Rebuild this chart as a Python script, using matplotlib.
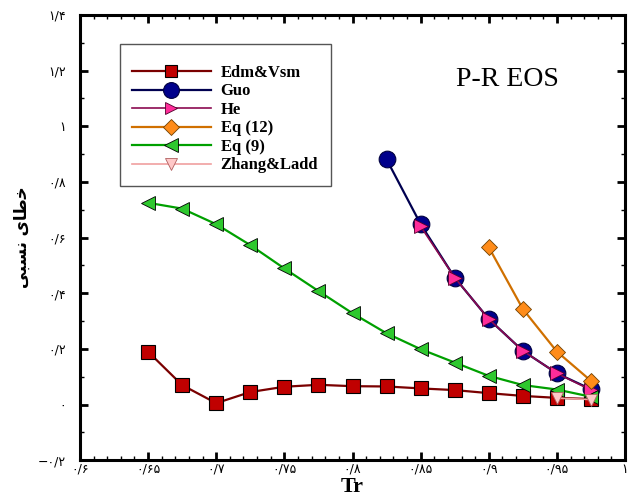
import numpy as np
import matplotlib.pyplot as plt
from matplotlib.ticker import MultipleLocator, FixedLocator

# data
tr_all = [0.65, 0.675, 0.7, 0.725, 0.75, 0.775, 0.8, 0.825,
          0.85, 0.875, 0.9, 0.925, 0.95, 0.975]
edm_vsm = [0.19, 0.07, 0.005, 0.045, 0.064, 0.071, 0.066, 0.065,
           0.058, 0.052, 0.041, 0.031, 0.024, 0.02]
eq9 = [0.725, 0.704, 0.648, 0.573, 0.489, 0.408, 0.328, 0.256,
       0.199, 0.151, 0.103, 0.07, 0.054, 0.028]

tr_guo = [0.825, 0.85, 0.875, 0.9, 0.925, 0.95, 0.975]
guo = [0.881, 0.648, 0.456, 0.307, 0.193, 0.112, 0.055]

tr_he = [0.85, 0.875, 0.9, 0.925, 0.95, 0.975]
he = [0.64, 0.456, 0.307, 0.193, 0.112, 0.052]

tr_eq12 = [0.9, 0.925, 0.95, 0.975]
eq12 = [0.565, 0.343, 0.19, 0.085]

tr_zhang = [0.95, 0.975]
zhang = [0.023, 0.018]

x_ticks = [0.6, 0.65, 0.7, 0.75, 0.8, 0.85, 0.9, 0.95, 1.0]
x_labels = ['۰/۶', '۰/۶۵', '۰/۷', '۰/۷۵', '۰/۸', '۰/۸۵', '۰/۹', '۰/۹۵', '۱']
y_ticks = [-0.2, 0, 0.2, 0.4, 0.6, 0.8, 1.0, 1.2, 1.4]
y_labels = ['−۰/۲', '۰', '۰/۲', '۰/۴', '۰/۶', '۰/۸', '۱', '۱/۲', '۱/۴']

# "خطای نسبی" in presentation forms, visual order (matplotlib does no shaping)
y_title = '\ufef0\ufe92\ufeb4\ufee7 \ufeef\ufe8e\ufec3\ufea7'

fig = plt.figure(figsize=(6.34, 4.97), dpi=100)
ax = fig.add_axes([0.126, 0.074, 0.86, 0.896])

ax.plot(tr_all, edm_vsm, color='#7a0000', lw=1.6, marker='s', ms=9.5,
        mfc='#c00000', mec='black', mew=0.8, label='Edm&Vsm')
ax.plot(tr_guo, guo, color='#000050', lw=1.6, marker='o', ms=12,
        mfc='#00008b', mec='#000040', mew=0.8, label='Guo')
ax.plot(tr_he, he, color='#8b0a50', lw=1.2, marker='>', ms=9.5,
        mfc='#ff2d9a', mec='#50002a', mew=0.6, label='He')
ax.plot(tr_eq12, eq12, color='#d07000', lw=1.6, marker='D', ms=8.5,
        mfc='#ff8c1a', mec='#704000', mew=0.6, label='Eq (12)')
ax.plot(tr_all, eq9, color='#00a000', lw=1.6, marker='<', ms=10,
        mfc='#2ec82e', mec='black', mew=0.6, label='Eq (9)')
ax.plot(tr_zhang, zhang, color='#f0a0a0', lw=1.2, marker='v', ms=9,
        mfc='#ffc8c8', mec='#b06060', mew=0.6, label='Zhang&Ladd')

ax.set_xlim(0.6, 1.0)
ax.set_ylim(-0.2, 1.4)
ax.xaxis.set_major_locator(FixedLocator(x_ticks))
ax.yaxis.set_major_locator(FixedLocator(y_ticks))
ax.xaxis.set_minor_locator(MultipleLocator(0.01))
ax.yaxis.set_minor_locator(MultipleLocator(0.1))
ax.set_xticklabels(x_labels, fontsize=9, family='DejaVu Sans')
ax.set_yticklabels(y_labels, fontsize=9, family='DejaVu Sans')
ax.tick_params(which='both', direction='in', top=True, right=True)
ax.tick_params(which='major', length=6, width=2)
ax.tick_params(which='minor', length=3, width=1)
ax.tick_params(axis='x', which='major', pad=2)
ax.tick_params(axis='y', which='major', pad=10)
for s in ax.spines.values():
    s.set_linewidth(2.2)

ax.set_xlabel('Tr', family='Liberation Serif', fontweight='bold',
              fontsize=16, labelpad=1)
ax.set_ylabel(y_title, family='DejaVu Sans', fontweight='bold',
              fontsize=12, labelpad=5)

ax.text(0.785, 0.856, 'P-R EOS', transform=ax.transAxes,
        family='Liberation Serif', fontsize=20, ha='center', va='center')

leg = ax.legend(loc='upper left', bbox_to_anchor=(0.073, 0.935),
                borderaxespad=0,
                prop={'family': 'Liberation Serif', 'weight': 'bold', 'size': 12},
                title=' ', title_fontsize=5,
                handlelength=4.7, handletextpad=0.6, labelspacing=0.15,
                borderpad=0.75, fancybox=False, framealpha=1,
                edgecolor='#555555', markerscale=0.95)
leg.get_frame().set_linewidth(1.0)

fig.savefig('out.png', dpi=100)
